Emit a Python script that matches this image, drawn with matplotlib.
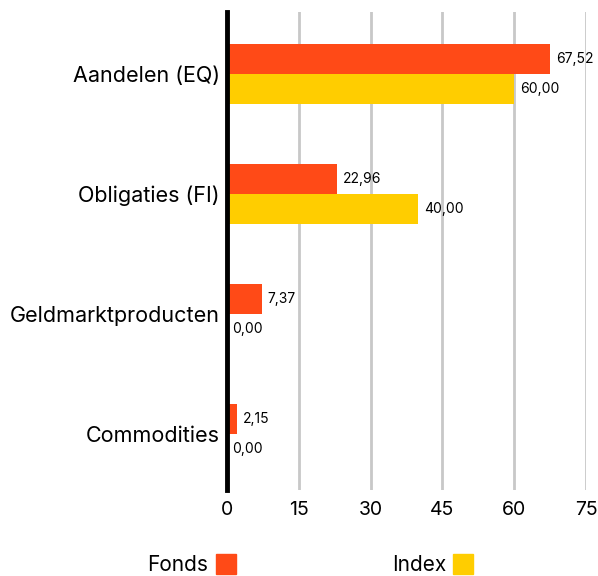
import matplotlib.pyplot as plt
import numpy as np
from matplotlib.patches import Rectangle

categories = ["Aandelen (EQ)", "Obligaties (FI)", "Geldmarktproducten", "Commodities"]
fonds = [67.52, 22.96, 7.37, 2.15]
index = [60.00, 40.00, 0.00, 0.00]
xticks = [0, 15, 30, 45, 60, 75]

ORANGE = "#FF4A17"
YELLOW = "#FFCD00"

plt.rcParams["font.family"] = ["Inter", "DejaVu Sans"]

fig = plt.figure(figsize=(5.98, 5.76), dpi=100)
ax = fig.add_axes([0.3796, 0.149, 0.6003, 0.830])

y = np.arange(len(categories))
h = 0.25
bars1 = ax.barh(y - h / 2, fonds, h, color=ORANGE)
bars2 = ax.barh(y + h / 2, index, h, color=YELLOW)

def fmt(v):
    return f"{v:.2f}".replace(".", ",")

ax.bar_label(bars1, labels=[fmt(v) for v in fonds], padding=4, fontsize=10)
ax.bar_label(bars2, labels=[fmt(v) for v in index], padding=4, fontsize=10)

ax.set_xlim(0, 75)
ax.set_ylim(3.47, -0.52)
ax.set_xticks(xticks)
ax.set_xticklabels([str(t) for t in xticks], fontsize=14)
ax.set_yticks(y)
ax.set_yticklabels(categories, fontsize=15.5)
ax.tick_params(length=0, pad=8)
ax.tick_params(axis="y", pad=5)

ax.grid(axis="x", color="#c8c8c8", linewidth=2)
ax.set_axisbelow(True)
for s in ["top", "right", "bottom"]:
    ax.spines[s].set_visible(False)
ax.spines["left"].set_linewidth(3.5)
ax.spines["left"].set_color("black")
ax.spines["left"].set_zorder(5)

# legend
fig.text(208 / 598, 1 - 565 / 576, "Fonds", ha="right", va="center", fontsize=15)
fig.patches.append(Rectangle((216 / 598, 1 - 574 / 576), 20 / 598, 20 / 576,
                             transform=fig.transFigure, color=ORANGE))
fig.text(446 / 598, 1 - 565 / 576, "Index", ha="right", va="center", fontsize=15)
fig.patches.append(Rectangle((453 / 598, 1 - 574 / 576), 20 / 598, 20 / 576,
                             transform=fig.transFigure, color=YELLOW))

plt.savefig("out.png")
